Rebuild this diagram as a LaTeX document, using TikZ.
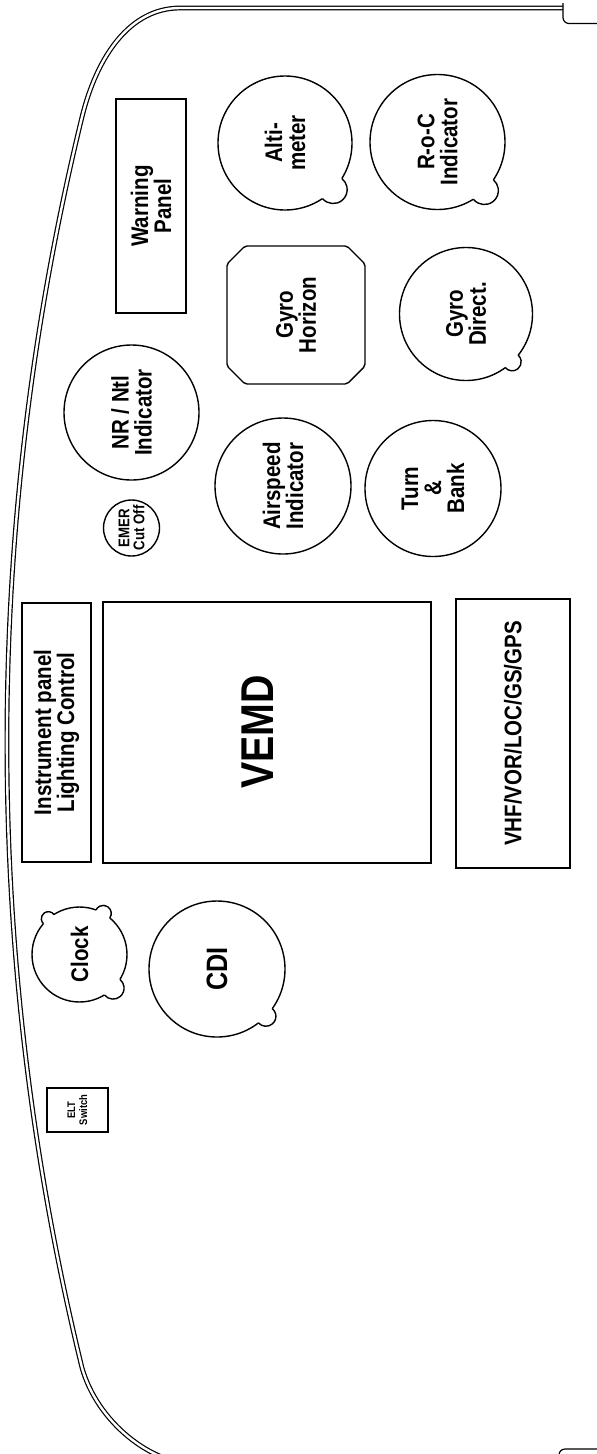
\documentclass[tikz,border=0pt]{standalone}
\usepackage{fontspec}
\newfontfamily\panelfont{Liberation Sans}[FakeStretch=0.855]
\usepackage{tikz}
\usetikzlibrary{calc}

\tikzset{
  panellabel/.style={rotate=90, align=center, inner sep=0pt, font=\panelfont\bfseries\fontsize{24}{23}\selectfont},
  panelbox/.style={panellabel, draw, line width=1.4pt},
  dialface/.style={panellabel, circle, draw, line width=1.4pt},
}

% knob on the rim of a dial: node, angle, dial radius, knob radius
\newcommand{\dialknob}[4]{%
  \fill[white] (#1.center) ++(#2:#3) circle (#4);
  \draw[line width=1.4pt] (#1.center) ++(#2:#3) ++(#2-95:#4) arc[start angle=#2-95, end angle=#2+95, radius=#4];
}

\begin{document}
\begin{tikzpicture}[x=10pt, y=10pt]
\useasboundingbox (0,0) rectangle (59.7,-145.4);

% Panel outline
\draw[double, double distance=2.4pt, line width=1.2pt] (56.3,-0.8) -- (18.0,-0.8)
  .. controls (13.0,-0.8) and (9.7,-5.6) .. (8.2,-11.7)
  arc[start angle=166.3, end angle=193.7, radius=264.1]
  .. controls (9.7,-142.1) and (15.0,-146.5) .. (20.0,-146.5) -- (55.9,-146.5);
\draw[line width=1.2pt, rounded corners=6pt] (56.3,-0.3) -- (56.3,-2.35) -- (59.7,-2.35);
\draw[line width=1.2pt, rounded corners=6pt] (55.9,-146.5) -- (55.9,-144.9) -- (59.7,-144.9);

% Upper instruments
\node[panelbox, minimum width=214pt, minimum height=70pt] (warn) at (15.1,-20.6) {Warning\\Panel};
\node[dialface, minimum size=134pt] (alti) at (28.5,-14.3) {Alti-\\meter};
\dialknob{alti}{-44}{6.7}{1.4}
\node[dialface, minimum size=135pt] (roc) at (43.75,-14.2) {R-o-C\\Indicator};
\dialknob{roc}{-46}{6.75}{1.4}

\draw[line width=1.4pt, rounded corners=2pt] (24.5,-24.6) -- (34.7,-24.6) -- (36.5,-26.4) -- (36.5,-36.6)
  -- (34.7,-38.4) -- (24.5,-38.4) -- (22.7,-36.6) -- (22.7,-26.4) -- cycle;
\node[panellabel] (gyrohor) at (29.6,-31.5) {Gyro\\Horizon};
\node[dialface, minimum size=133pt] (gyrodir) at (46.6,-31.4) {Gyro\\Direct.};
\dialknob{gyrodir}{-46}{6.65}{0.9}

\node[dialface, minimum size=135pt] (nrntl) at (13.15,-41.25) {NR / Ntl\\Indicator};
\node[dialface, minimum size=136pt] (airspeed) at (28.3,-48.6) {Airspeed\\Indicator};
\node[dialface, minimum size=136pt] (turnbank) at (43.3,-48.85) {Turn\\\&\\Bank};
\node[dialface, minimum size=56pt, font=\panelfont\bfseries\fontsize{15.5}{15}\selectfont] (emer) at (13.15,-52.8) {EMER\\Cut Off};

% Centre stack
\node[panelbox, minimum width=259pt, minimum height=69pt] (lighting) at (5.65,-73.25) {Instrument panel\\Lighting Control};
\node[panelbox, minimum width=261pt, minimum height=328pt] (vemd) at (26.7,-73.25) {};
\node[panellabel, font=\panelfont\bfseries\fontsize{46}{46}\selectfont] (vemdlabel) at (25.75,-73.2) {VEMD};
\node[panelbox, minimum width=269pt, minimum height=114pt] (vhf) at (51.3,-73.35) {VHF/VOR/LOC/GS/GPS};

% Lower instruments
\node[dialface, minimum size=95pt] (clock) at (7.95,-95.45) {Clock};
\foreach \ang/\kr in {131/0.7, 60/0.8, -45/1.1} {
    \dialknob{clock}{\ang}{4.75}{\kr}
}
\node[dialface, minimum size=136pt, font=\panelfont\bfseries\fontsize{29.5}{30}\selectfont] (cdi) at (21.7,-96.9) {CDI};
\dialknob{cdi}{-44}{6.8}{1.0}
\node[panelbox, minimum width=44pt, minimum height=61pt, line width=1.1pt, font=\panelfont\bfseries\fontsize{11}{12}\selectfont] (elt) at (7.75,-111.0) {ELT\\Switch};

\end{tikzpicture}
\end{document}
